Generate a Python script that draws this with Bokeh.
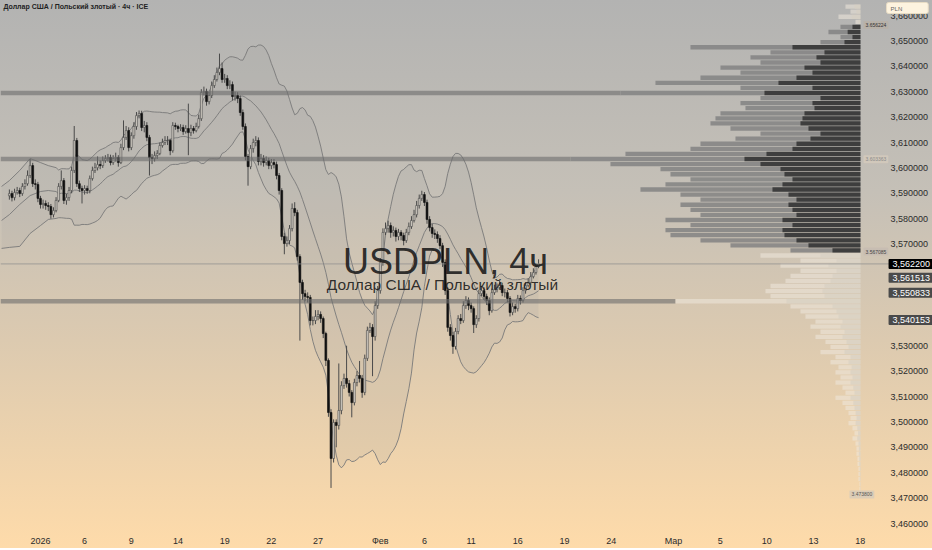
import numpy as np
import pandas as pd
from bokeh.plotting import figure
from bokeh.models import Range1d, FixedTicker, Label, Span
from bokeh.core.properties import value
from bokeh.embed import file_html
from bokeh.resources import INLINE

FONT = "Liberation Sans"

# ---------------- data (prices in 1e-4 units) ----------------
candle_start = -12          # index of first visible 4h candle (0 = first candle of 2026)
first_open = 35890
closes_pips = [
    35899, 35883, 35903, 35911, 35899, 35927, 35938, 35970, 36009, 35938, 35935, 35880,
    35856, 35860, 35852, 35848, 35816, 35832, 35872, 35927, 35950, 35872,
    35883, 35911, 35990, 36108, 35938, 35919, 35911, 35919, 35911, 35958,
    35990, 36001, 36013, 36009, 36029, 36037, 36041, 36021, 36037, 36041,
    36021, 36080, 36120, 36147, 36080, 36127, 36163, 36206, 36214, 36159,
    36167, 36120, 36041, 36037, 36049, 36057, 36088, 36100, 36108, 36108,
    36068, 36167, 36163, 36155, 36159, 36143, 36155, 36139, 36155, 36147,
    36163, 36194, 36297, 36301, 36261, 36285, 36324, 36348, 36376, 36391,
    36348, 36352, 36324, 36328, 36281, 36285, 36273, 36218, 36163, 36045,
    36005, 36076, 36100, 36108, 36025, 36037, 36021, 36029, 36009, 36021,
    36013, 35970, 35911, 35730, 35702, 35714, 35761, 35840, 35824, 35651,
    35549, 35505, 35494, 35490, 35399, 35399, 35415, 35423, 35407, 35348,
    35242, 35037, 34856, 34998, 34986, 35045, 35143, 35171, 35151, 35116,
    35076, 35155, 35183, 35171, 35116, 35250, 35360, 35372, 35336, 35458,
    35517, 35628, 35746, 35761, 35773, 35746, 35754, 35730, 35746, 35734,
    35714, 35746, 35769, 35793, 35816, 35852, 35880, 35895, 35864, 35797,
    35765, 35742, 35738, 35722, 35694, 35628, 35517, 35372, 35340, 35297,
    35356, 35407, 35399, 35458, 35478, 35458, 35446, 35383, 35407, 35505,
    35517, 35494, 35478, 35438, 35509, 35521, 35529, 35537, 35509, 35509,
    35486, 35431, 35454, 35446, 35486, 35478, 35517, 35537, 35549, 35572,
    35588, 35612, 35622,
]
highs_pips = [
    35915, 35910, 35918, 35925, 35922, 35940, 35955, 35990, 36035, 36020, 35955, 35945,
    35890, 35875, 35872, 35865, 35858, 35845, 35885, 35940, 35990, 35960,
    35898, 35925, 36005, 36165, 36118, 35950, 35930, 35932, 35930, 35970,
    36005, 36020, 36045, 36030, 36045, 36050, 36055, 36052, 36050, 36060,
    36050, 36095, 36187, 36165, 36160, 36140, 36180, 36220, 36226, 36225,
    36185, 36180, 36130, 36055, 36065, 36070, 36100, 36115, 36125, 36125,
    36115, 36180, 36178, 36170, 36172, 36170, 36168, 36253, 36170, 36165,
    36178, 36210, 36310, 36320, 36312, 36300, 36340, 36365, 36395, 36450,
    36415, 36370, 36365, 36345, 36340, 36300, 36298, 36285, 36230, 36175,
    36055, 36090, 36115, 36125, 36120, 36055, 36050, 36045, 36040, 36035,
    36035, 36025, 35980, 35920, 35745, 35730, 35775, 35860, 35865, 35835,
    35660, 35560, 35520, 35510, 35500, 35415, 35440, 35440, 35435, 35415,
    35355, 35250, 35050, 35010, 35010, 35230, 35160, 35190, 35300, 35165,
    35125, 35170, 35200, 35240, 35185, 35265, 35375, 35390, 35385, 35475,
    35535, 35645, 35762, 35785, 35792, 35785, 35770, 35765, 35760, 35755,
    35745, 35760, 35785, 35810, 35835, 35870, 35895, 35910, 35905, 35875,
    35810, 35780, 35758, 35750, 35735, 35705, 35640, 35530, 35385, 35355,
    35370, 35420, 35425, 35475, 35495, 35490, 35470, 35455, 35420, 35520,
    35535, 35530, 35505, 35490, 35525, 35540, 35545, 35555, 35548, 35525,
    35520, 35495, 35470, 35465, 35500, 35498, 35530, 35550, 35565, 35590,
    35605, 35625, 35640,
]
lows_pips = [
    35875, 35868, 35872, 35895, 35885, 35890, 35915, 35930, 35960, 35925, 35915, 35865,
    35840, 35840, 35835, 35830, 35800, 35805, 35825, 35865, 35915, 35858,
    35855, 35870, 35900, 35980, 35925, 35905, 35860, 35895, 35898, 35900,
    35950, 35980, 35990, 35995, 36000, 36020, 36025, 36010, 36012, 36025,
    36005, 36015, 36070, 36110, 36065, 36070, 36115, 36150, 36195, 36145,
    36140, 36105, 35970, 36015, 36025, 36035, 36050, 36080, 36090, 36090,
    36050, 36060, 36150, 36140, 36145, 36130, 36135, 36050, 36125, 36135,
    36140, 36155, 36185, 36285, 36245, 36250, 36275, 36315, 36340, 36365,
    36335, 36335, 36310, 36310, 36265, 36265, 36255, 36205, 36150, 36030,
    35930, 35995, 36060, 36085, 36010, 36010, 36005, 36010, 35995, 35995,
    35998, 35955, 35895, 35715, 35660, 35690, 35700, 35750, 35810, 35635,
    35320, 35480, 35475, 35470, 35380, 35380, 35385, 35400, 35390, 35330,
    35220, 35020, 34740, 34840, 34900, 34970, 35030, 35130, 35135, 35100,
    35018, 35065, 35140, 35155, 35095, 35105, 35240, 35350, 35180, 35320,
    35445, 35505, 35615, 35735, 35745, 35725, 35730, 35710, 35715, 35715,
    35695, 35705, 35735, 35760, 35785, 35805, 35840, 35870, 35850, 35780,
    35750, 35725, 35720, 35705, 35680, 35610, 35500, 35355, 35320, 35268,
    35285, 35345, 35385, 35390, 35445, 35440, 35430, 35350, 35370, 35395,
    35495, 35480, 35460, 35420, 35430, 35500, 35510, 35520, 35495, 35490,
    35470, 35415, 35420, 35430, 35435, 35462, 35470, 35505, 35530, 35540,
    35565, 35580, 35605,
]

# Bollinger band values read at the left edge (before 20 candles of history exist)
bb_lead_idx = [-15, -12, -8, -4, 0, 3, 6]
bb_lead_upper = [3.5927, 3.5950, 3.5990, 3.6037, 3.6021, 3.6009, 3.6001]
bb_lead_mid = [3.5793, 3.5816, 3.5856, 3.5891, 3.5907, 3.5911, 3.5907]
bb_lead_lower = [3.5683, 3.5687, 3.5691, 3.5742, 3.5773, 3.5797, 3.5801]
bb_period = 20
bb_mult = 2.0

# time-axis labels (candle index where each date starts)
tick_idx = [0, 17, 35, 53, 71, 89, 107, 131, 148, 166, 184, 202, 220, 244, 262, 280, 298, 316]
tick_lbl = ["2026", "6", "9", "14", "19", "22", "27", "Фев", "6", "11", "16", "19", "24",
            "Мар", "5", "10", "13", "18"]

# price scale ticks (3,54 / 3,55 / 3,56 hidden behind price labels)
price_ticks = [3.46, 3.47, 3.48, 3.49, 3.50, 3.51, 3.52, 3.53,
               3.57, 3.58, 3.59, 3.60, 3.61, 3.62, 3.63, 3.64, 3.65, 3.66]

# price labels on the scale
last_price = 3.562200
band_last = [3.561513, 3.550833, 3.540153]   # upper, middle, lower

# volume profile (rows of 0.002, from top)
profile_top = 3.6635
profile_step = 0.002
profile_vol = [
    15, 10, 22, 5, 20, 32, 20, 40, 170, 90,
    110, 100, 140, 120, 160, 205, 120, 240, 100, 120,
    115, 140, 145, 150, 130, 100, 125, 160, 170, 235,
    290, 250, 200, 190, 170, 195, 220, 180, 160, 180,
    170, 160, 195, 170, 195, 190, 160, 130, 70, 100,
    60, 80, 60, 70, 75, 90, 95, 90, 185, 70,
    60, 55, 45, 50, 40, 45, 35, 30, 40, 25,
    30, 22, 25, 20, 25, 18, 15, 25, 18, 15,
    12, 10, 12, 8, 6, 8, 5, 4, 4, 3,
    3, 2, 2, 2, 1, 1,
]
extended_levels = [3.6295, 3.6035, 3.5475]
profile_marks = [3.656224, 3.603363, 3.567085, 3.473800]   # VAH, POC, VAL, low
va_high, va_low = profile_marks[0], profile_marks[2]

# ---------------- derived ----------------
closes = np.array(closes_pips) / 10000.0
opens = np.concatenate([[first_open / 10000.0], closes[:-1]])
highs = np.maximum(np.array(highs_pips) / 10000.0, np.maximum(opens, closes))
lows = np.minimum(np.array(lows_pips) / 10000.0, np.minimum(opens, closes))
idx = np.arange(candle_start, candle_start + len(closes))

s = pd.Series(closes)
mid = s.rolling(bb_period).mean()
sd = s.rolling(bb_period).std(ddof=0)
ok = ~mid.isna().values
bb_x = np.concatenate([bb_lead_idx, idx[ok]])
bb_mid = np.concatenate([bb_lead_mid, mid.values[ok]])
bb_up = np.concatenate([bb_lead_upper, (mid + bb_mult * sd).values[ok]])
bb_lo = np.concatenate([bb_lead_lower, (mid - bb_mult * sd).values[ok]])

# ---------------- figure ----------------
W, H = 932, 548
FB = 532                      # frame bottom (px); frame spans full width incl. price scale
X0, X1 = -15.42, 343.87
Y0, Y1 = 3.456457, 3.665906
SCALE_X = 327.7               # x (candle units) of the price-scale text column
PROF_RIGHT = 316.1            # right edge of volume profile (candle units)
PROF_LEN = 111.8              # length of the longest profile row (candle units)

p = figure(width=W, height=H, x_range=Range1d(X0, X1), y_range=Range1d(Y0, Y1),
           output_backend="svg", toolbar_location=None, y_axis_location=None,
           min_border_left=0, min_border_top=0, min_border_right=0,
           min_border_bottom=H - FB)
p.styles = {"background": "linear-gradient(180deg, #b3b3b2 0%, #c5c0b7 35%, #dccab0 62%, #fedbaa 100%)"}
p.background_fill_color = None
p.border_fill_color = None
p.outline_line_color = None
p.xgrid.visible = False
p.ygrid.visible = False

# time axis
xa = p.xaxis[0]
xa.ticker = FixedTicker(ticks=tick_idx)
xa.major_label_overrides = {t: l for t, l in zip(tick_idx, tick_lbl)}
xa.axis_line_color = None
xa.major_tick_line_color = None
xa.minor_tick_line_color = None
xa.major_tick_out = 0
xa.major_tick_in = 0
xa.minor_tick_out = 0
xa.major_label_text_font = FONT
xa.major_label_text_font_size = "9px"
xa.major_label_text_color = "#2b2b2b"
xa.major_label_standoff = 3

# bollinger band
p.varea(x=bb_x, y1=bb_lo, y2=bb_up, fill_color="#9c9c9c", fill_alpha=0.14)
for yy in (bb_up, bb_mid, bb_lo):
    p.line(bb_x, yy, line_color="#7a7a7a", line_width=1, line_alpha=0.9)

# candles
up = closes >= opens
dn = ~up
p.segment(idx, highs, idx, lows, line_color="#4a4a4a", line_width=1)
p.vbar(x=idx[up], top=closes[up], bottom=opens[up], width=0.72,
       fill_color="#d2cdc4", line_color="#4a4a4a", line_width=0.6)
p.vbar(x=idx[dn], top=opens[dn], bottom=closes[dn], width=0.72,
       fill_color="#111111", line_color="#111111", line_width=0.6)

# volume profile
levels = profile_top - profile_step * np.arange(len(profile_vol))
vol = np.array(profile_vol, dtype=float)
lengths = vol / vol.max() * PROF_LEN
lefts = PROF_RIGHT - lengths
in_va = (levels >= va_low - 0.0005) & (levels <= va_high + 0.0005)
row_h = 0.0017

ext = np.array([any(abs(l - e) < 1e-6 for e in extended_levels) for l in levels])
p.hbar(y=levels[ext], left=X0, right=lefts[ext], height=row_h,
       fill_color="#6c6c6c", fill_alpha=0.6, line_color=None)

p.hbar(y=levels[in_va], left=lefts[in_va], right=PROF_RIGHT, height=row_h,
       fill_color="#838383", fill_alpha=0.85, line_color=None)
p.hbar(y=levels[in_va], left=PROF_RIGHT - lengths[in_va] * 0.4, right=PROF_RIGHT, height=row_h,
       fill_color="#303030", fill_alpha=0.85, line_color=None)
p.hbar(y=levels[~in_va], left=lefts[~in_va], right=PROF_RIGHT, height=row_h,
       fill_color="#eee7dc", fill_alpha=0.55, line_color=None)
p.hbar(y=levels[~in_va], left=PROF_RIGHT - lengths[~in_va] * 0.4, right=PROF_RIGHT, height=row_h,
       fill_color="#d6cec2", fill_alpha=0.6, line_color=None)

# current price line
p.add_layout(Span(location=last_price, dimension="width", line_color="#8c8c8c",
                  line_width=1, line_alpha=0.7))

# price scale tick labels
p.text(x=[SCALE_X] * len(price_ticks), y=price_ticks,
       text=[("%.6f" % t).replace(".", ",") for t in price_ticks],
       text_font=value(FONT), text_font_size="9px", text_color="#2b2b2b",
       text_align="left", text_baseline="middle")

# profile value labels
for k, (val, bg, fg) in enumerate(zip(profile_marks,
                                      ["#b8b0a6", "#d3c9bb", "#c6bdb1", "#d9ccb8"],
                                      ["#333333", "#8a8a8a", "#444444", "#555555"])):
    p.add_layout(Label(x=PROF_RIGHT, y=val, x_offset=(3 if k < 3 else -11),
                       y_offset=(0 if k < 3 else -6),
                       text="%.6f" % val, text_font=FONT, text_font_size="5px",
                       text_color=fg, text_baseline="middle",
                       background_fill_color=bg, background_fill_alpha=0.9,
                       padding=2, border_radius=1))

# price scale boxes
p.add_layout(Label(x=SCALE_X, y=last_price, x_offset=-2,
                   text=("%.6f" % last_price).replace(".", ","),
                   text_font=FONT, text_font_size="9px", text_color="#ffffff",
                   text_baseline="middle", background_fill_color="#000000",
                   padding=dict(left=4, right=5, top=2, bottom=2), border_radius=1))
for k, val in enumerate(band_last):
    p.add_layout(Label(x=SCALE_X, y=val, x_offset=-2, y_offset=(-12 if k == 0 else 0),
                       text=("%.6f" % val).replace(".", ","),
                       text_font=FONT, text_font_size="9px", text_color="#ffffff",
                       text_baseline="middle", background_fill_color="#4a4a4a",
                       padding=dict(left=4, right=5, top=2, bottom=2), border_radius=1))

# currency box
p.add_layout(Label(x=SCALE_X, y=Y1, x_offset=-4, y_offset=-2, text="PLN", text_font=FONT,
                   text_font_size="6px", text_color="#666666", text_baseline="top",
                   background_fill_color="#fdf3df", border_line_color="#e8dcc4",
                   padding=dict(left=4, right=26, top=3, bottom=2), border_radius=2))

# header
p.add_layout(Label(x=X0, y=Y1, x_offset=3, y_offset=-2,
                   text="Доллар США / Польский злотый · 4ч · ICE", text_font=FONT,
                   text_font_size="7px", text_font_style="bold", text_color="#222222",
                   text_baseline="top"))

# watermark
ym = (Y0 + Y1) / 2
p.add_layout(Label(x=445, x_units="screen", y=ym, y_offset=5, text="USDPLN, 4ч",
                   text_font=FONT, text_font_size="36px", text_color="#1a1a1a",
                   text_alpha=0.9, text_align="center", text_baseline="middle"))
p.add_layout(Label(x=442, x_units="screen", y=ym, y_offset=-18,
                   text="Доллар США / Польский злотый",
                   text_font=FONT, text_font_size="15.5px", text_color="#1a1a1a",
                   text_alpha=0.9, text_align="center", text_baseline="middle"))

open("out.html", "w").write(file_html(p, INLINE))
